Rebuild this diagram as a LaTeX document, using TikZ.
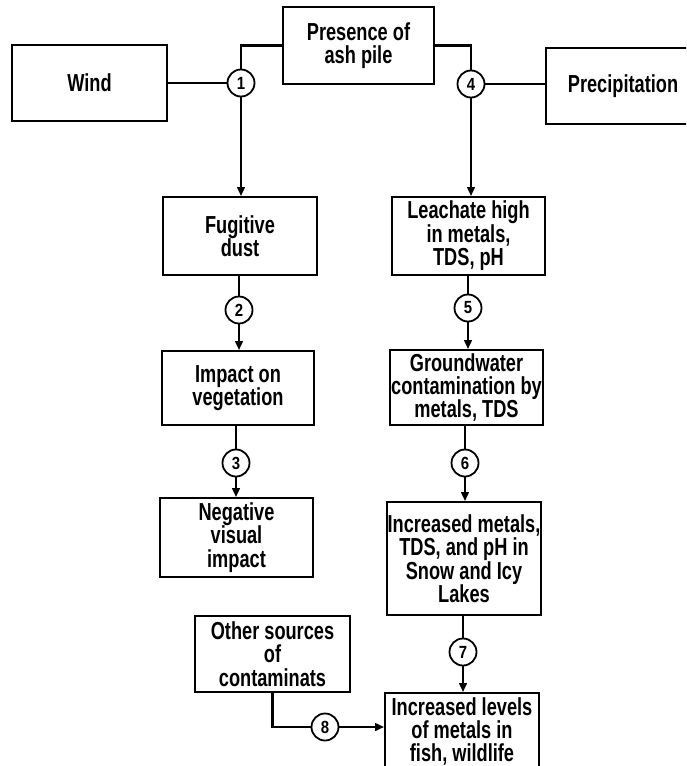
\documentclass[tikz,border=0pt]{standalone}
\usepackage{fontspec}
\usetikzlibrary{arrows.meta}
\newfontfamily\condsans[FakeStretch=0.74]{Liberation Sans}
\newfontfamily\numsans[FakeStretch=0.85]{Liberation Sans}
\newcommand\boxfont{\condsans\bfseries\fontsize{12.3}{11.7}\selectfont}
\newcommand\numfont{\numsans\bfseries\fontsize{8.8}{9}\selectfont}
\begin{document}
\begin{tikzpicture}[x=0.5pt,y=-0.5pt,
  stage/.style={draw, line width=0.9pt, rectangle, inner sep=0pt,
    align=center, font=\boxfont, minimum width=77pt},
  tag/.style={draw, line width=0.9pt, circle, inner sep=0pt,
    minimum size=13.5pt, font=\numfont},
  link/.style={line width=1.3pt},
  flow/.style={line width=1.3pt, -{Triangle[length=4.5pt,width=3.8pt]}}]
\useasboundingbox (0,0) rectangle (686,766);
\fill[white] (0,0) rectangle (686,766);
\clip (0,0) rectangle (686,766);

% boxes
\node[stage, minimum width=75.5pt, minimum height=38.5pt] (presence) at (358.5,45.5) {Presence of\\ash pile};
\node[stage, minimum width=77.5pt, minimum height=38pt] (wind) at (89.5,83) {Wind};
\node[stage, minimum width=77pt, minimum height=38pt] (precip) at (623,86) {Precipitation};
\node[stage, minimum height=39pt] (fugitive) at (240,236) {Fugitive\\dust};
\node[stage, minimum width=76.5pt, minimum height=39pt] (leachate) at (468.5,236) {Leachate high\\in metals,\\TDS, pH};
\node[stage, minimum width=76pt, minimum height=37pt] (impact) at (238,388) {Impact on\\vegetation};
\node[stage, minimum width=76.5pt, minimum height=37.5pt] (ground) at (466.5,387.5) {Groundwater\\contamination by\\metals, TDS};
\node[stage, minimum width=76.5pt, minimum height=39.5pt] (negative) at (236.5,537.5) {Negative\\visual\\impact};
\node[stage, minimum height=56.5pt] (lakes) at (464,558.5) {Increased metals,\\TDS, and pH in\\Snow and Icy\\Lakes};
\node[stage, minimum width=77.5pt, minimum height=38pt] (other) at (272.5,654) {Other sources\\of\\contaminats};
\node[stage, minimum height=38.5pt] (fish) at (462,731.5) {Increased levels\\of metals in\\fish, wildlife};

% numbered pathway markers
\node[tag] (c1) at (241,83) {1};
\node[tag] (c4) at (471,84) {4};
\node[tag] (c2) at (239,310) {2};
\node[tag] (c3) at (236,463) {3};
\node[tag] (c5) at (468,308) {5};
\node[tag] (c6) at (465,463) {6};
\node[tag] (c7) at (463,652) {7};
\node[tag] (c8) at (325,727) {8};

% wind pathway
\draw[link] (presence.west) -| (c1.north);
\draw[link] (wind.east) -- (c1.west);
\draw[flow] (c1.south) -- (c1 |- fugitive.north);
\draw[link] (fugitive.south -| c2) -- (c2.north);
\draw[flow] (c2.south) -- (c2 |- impact.north);
\draw[link] (impact.south -| c3) -- (c3.north);
\draw[flow] (c3.south) -- (c3 |- negative.north);

% precipitation pathway
\draw[link] (presence.east) -| (c4.north);
\draw[link] (c4.east) -- (c4 -| precip.west);
\draw[flow] (c4.south) -- (c4 |- leachate.north);
\draw[link] (leachate.south -| c5) -- (c5.north);
\draw[flow] (c5.south) -- (c5 |- ground.north);
\draw[link] (ground.south -| c6) -- (c6.north);
\draw[flow] (c6.south) -- (c6 |- lakes.north);
\draw[link] (lakes.south -| c7) -- (c7.north);
\draw[flow] (c7.south) -- (c7 |- fish.north);

% other sources
\draw[link] (other.south) |- (c8.west);
\draw[flow] (c8.east) -- (c8 -| fish.west);
\end{tikzpicture}
\end{document}
